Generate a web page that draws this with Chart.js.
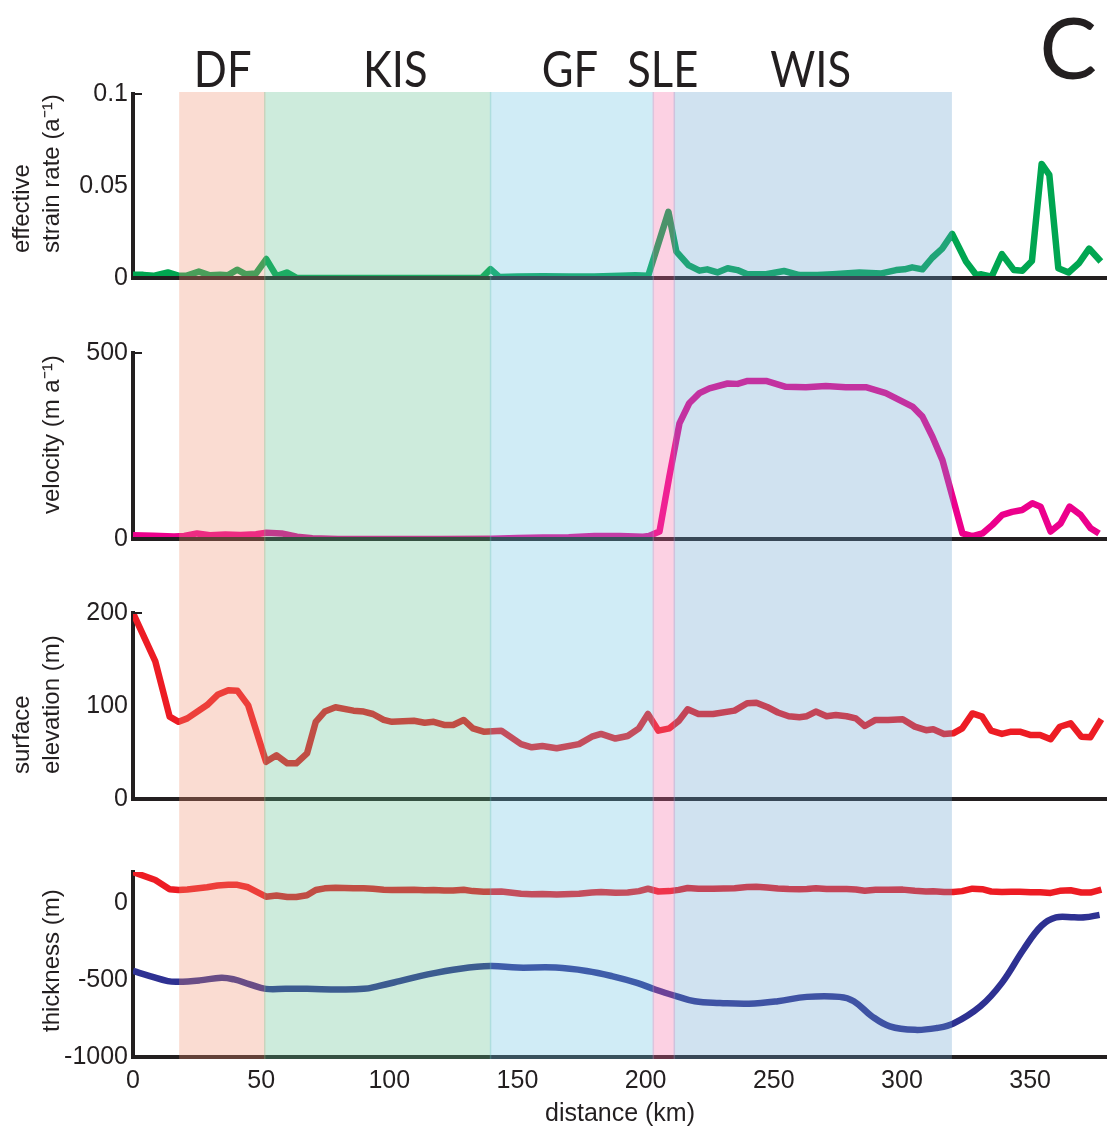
<!DOCTYPE html>
<html>
<head>
<meta charset="utf-8">
<title>Flowline profile C</title>
<script src="https://cdn.jsdelivr.net/npm/chart.js@4.4.1/dist/chart.umd.min.js"></script>
<style>
  html, body { margin: 0; padding: 0; background: #fff; }
  #wrap { position: relative; width: 1107px; height: 1133px; }
</style>
</head>
<body>
<div id="wrap"><canvas id="profile" width="1107" height="1133"></canvas></div>
<script>
'use strict';

// flow regions along the profile (km)
const regionNames = ['DF', 'KIS', 'GF', 'SLE', 'WIS'];
const regionStart = [18.3, 51.4, 139.5, 203.0, 211.2];
const regionEnd = [51.4, 139.5, 203.0, 211.2, 319.2];
const regionLabelKm = [35, 102.3, 170.5, 206.7, 264.4];
const regionColors = ['rgb(239,142,110)', 'rgb(94,190,142)', 'rgb(103,194,226)', 'rgb(245,107,164)', 'rgb(103,161,206)'];

// axis ticks
const distanceTicks = [0, 50, 100, 150, 200, 250, 300, 350];
const strainTicks = [0, 0.05, 0.1];
const strainTickLabels = ['0', '0.05', '0.1'];
const velocityTicks = [0, 500];
const velocityTickLabels = ['0', '500'];
const elevationTicks = [0, 100, 200];
const elevationTickLabels = ['0', '100', '200'];
const thicknessTicks = [-1000, -500, 0];
const thicknessTickLabels = ['-1000', '-500', '0'];

// effective strain rate (a^-1)
const strainKm = [0, 4, 8, 13.6, 18, 21, 25.7, 30, 34, 37, 40.6, 44, 48, 52, 56, 60, 64, 80, 100, 120, 136,
  139.5, 143, 150, 160, 170, 180, 190, 196, 201, 208.9, 212, 216.7, 221, 224, 228, 232, 235.8, 239.7, 247,
  254, 260, 267, 273, 283.4, 292, 297.7, 301, 304, 308, 311.8, 315.7, 319.6, 325, 329, 331, 335, 339,
  343.7, 347, 350.7, 354.5, 357.5, 361, 365, 369, 373, 377.6];
const strainRate = [0.0017, 0.0017, 0.0012, 0.003, 0.0012, 0.0013, 0.0035, 0.0015, 0.0018, 0.0015, 0.0045,
  0.002, 0.0025, 0.0103, 0.001, 0.003, 0, 0, 0, 0, 0,
  0.0048, 0.0005, 0.0008, 0.001, 0.0008, 0.0008, 0.0012, 0.0015, 0.0012, 0.036, 0.0143, 0.007, 0.004, 0.0047,
  0.003, 0.0053, 0.0043, 0.002, 0.002,
  0.0038, 0.0016, 0.0016, 0.002, 0.003, 0.0025, 0.0043, 0.0047, 0.0058, 0.0047, 0.011, 0.016, 0.024, 0.009,
  0.0016, 0.002, 0.0007, 0.013,
  0.0043, 0.004, 0.0092, 0.062, 0.056, 0.0053, 0.003, 0.008, 0.016, 0.009];

// surface velocity (m a^-1)
const velocityKm = [0, 8, 16, 20, 25, 30, 36, 42, 48, 52, 58, 64, 70, 80, 100, 120, 140, 150, 160, 170, 180,
  190, 199, 201.3, 205.4, 209.3, 213.2, 217, 221, 224.9, 232, 235.9, 239.8, 247, 254.7, 262.5, 270.3, 278.1,
  285.9, 293.7, 298.9, 304.1, 308, 311.9, 315.8, 319.7, 323.6, 327.5, 331.4, 335.3, 339.2, 343, 346.9,
  350.9, 354.1, 358, 361.9, 365.4, 369.7, 373.6, 376.9];
const velocity = [10, 9, 7, 8, 15, 10, 12, 11, 13, 17, 15, 6, 2, 0, 0, 0, 1, 3, 4, 5, 8,
  8, 6, 8, 20, 170, 311, 365, 392, 405, 418, 417, 425, 425, 409, 408, 411, 408,
  408, 392, 374, 356, 329, 275, 212, 114, 15, 8, 15, 38, 65, 73, 78,
  96, 87, 20, 42, 87, 65, 29, 15];

// surface elevation (m)
const elevationKm = [0, 8.7, 14.3, 17.8, 21.2, 28.9, 33, 37.2, 40.7, 44.9, 51.9, 56, 60.2, 63.7, 67.9, 71.3,
  74.8, 79, 86, 90, 93.6, 97.8, 101, 109.6, 113.8, 117.3, 121.4, 124.9, 129, 132.6, 136.8, 143.7, 151.4,
  155.6, 159.7, 165.3, 174, 179, 182.6, 188.2, 193, 197.4, 200.9, 205, 209.3, 212.9, 216.4, 220.6, 226.3,
  234.7, 239.6, 243.2, 247.4, 251.6, 255.8, 260, 262.9, 266.4, 270.6, 274.2, 278.4, 282, 285.5, 289.7,
  294.6, 300.3, 305, 309.4, 312.2, 316.4, 320, 323.5, 327.5, 331.3, 334.8, 339, 342.6, 346, 350.3, 353.9,
  358, 361.6, 365.8, 370, 373.5, 377.8];
const elevation = [200, 148, 88.5, 83, 86.7, 101, 112, 117, 116.5, 101, 40, 47, 38.4, 38.4, 49, 83,
  94, 98.6, 95, 94, 91.4, 85, 83, 84.2, 82, 83, 79.6, 79.6, 85, 76, 72.4, 73.5, 59,
  55.6, 57, 54.5, 59, 67, 70, 65, 67.7, 76, 91.4, 73.5, 76, 84, 96.4, 91.4, 91.4,
  95, 103, 103.6, 99, 93, 89, 88, 89, 94, 89, 90.3, 89, 86.7, 78.5, 85,
  85, 85.7, 77.8, 74, 75, 70, 70.6, 76, 92, 88.5, 73.5, 70, 72.4, 72.4, 68.8, 68.8,
  64.2, 77.7, 81.4, 67, 66.4, 85.7];

// ice base (m)
const baseKm = [0, 6.6, 13.6, 17.8, 26, 34.5, 39.4, 45.6, 51.8, 59.5, 67.9, 80.4, 90, 95.7, 104, 115, 127.7,
  139.5, 150, 165, 177, 186.8, 196.6, 203.7, 212.2, 219.2, 229, 240.3, 251.6, 262.9, 275.6, 281.2, 288.3,
  295.3, 305.1, 313.6, 320, 330.6, 339, 347.5, 354.5, 360.1, 367.2, 371.4, 377.1];
const base = [-442, -475, -508, -512, -503, -486, -497, -529, -558, -558, -558, -562, -558, -540, -508, -464, -427,
  -410, -420, -420, -442, -475, -519, -562, -606, -638, -649, -654, -638, -610, -610, -638, -736,
  -801, -824, -812, -784, -671, -519, -301, -148, -94, -94, -94, -78];

const ink = '#231f20';
const fontFamily = "'Liberation Sans', Arial, sans-serif";
const tickFont = { family: fontFamily, size: 25 };
const panelAxes = ['yStrain', 'yVel', 'yElev', 'yThk'];
const axisTitles = {
  yStrain: ['effective', 'strain rate (a\u207B\u00B9)'],
  yVel: ['velocity (m a\u207B\u00B9)'],
  yElev: ['surface', 'elevation (m)'],
  yThk: ['thickness (m)']
};

const pairs = (xs, ys) => xs.map((k, i) => ({ x: k, y: ys[i] }));

function panelAxis(weight, stackWeight, min, max, ticks, labels) {
  return {
    type: 'linear',
    position: 'left',
    stack: 'panels',
    weight: weight,
    stackWeight: stackWeight,
    min: min,
    max: max,
    grid: { display: false, drawTicks: false },
    border: { display: true, color: ink, width: 4 },
    afterBuildTicks: axis => { axis.ticks = ticks.map(v => ({ value: v })); },
    afterFit: axis => { axis.width = 133; },
    ticks: {
      color: ink,
      font: tickFont,
      padding: 5,
      callback: v => labels[ticks.indexOf(v)]
    }
  };
}

function spacerAxis(weight, stackWeight) {
  return {
    type: 'linear',
    position: 'left',
    stack: 'panels',
    weight: weight,
    stackWeight: stackWeight,
    grid: { display: false, drawTicks: false },
    border: { display: false },
    ticks: { display: false },
    afterFit: axis => { axis.width = 133; }
  };
}

const panelFrame = {
  id: 'panelFrame',
  afterDatasetsDraw(chart) {
    const { ctx, chartArea, scales } = chart;
    const x = scales.x;
    ctx.save();

    // base line of every panel, over the data
    ctx.strokeStyle = ink;
    ctx.lineWidth = 4;
    for (const id of panelAxes) {
      const s = scales[id];
      const y = s.getPixelForValue(s.min);
      ctx.beginPath();
      ctx.moveTo(chartArea.left - 2, y);
      ctx.lineTo(chartArea.right, y);
      ctx.stroke();
    }
    // short inward tick at the top of the upper three axes
    ctx.lineWidth = 2;
    for (const id of ['yStrain', 'yVel', 'yElev']) {
      const s = scales[id];
      const y = s.getPixelForValue(s.max);
      ctx.beginPath();
      ctx.moveTo(chartArea.left, y);
      ctx.lineTo(chartArea.left + 9, y);
      ctx.stroke();
    }

    // translucent region bands laid over lines and axes
    ctx.globalAlpha = 0.31;
    regionNames.forEach((name, i) => {
      const x0 = x.getPixelForValue(regionStart[i]);
      const x1 = x.getPixelForValue(regionEnd[i]);
      ctx.fillStyle = regionColors[i];
      ctx.fillRect(x0 - 0.75, chartArea.top - 2, x1 - x0 + 1.5, chartArea.bottom - chartArea.top + 4);
    });
    ctx.restore();
  },
  afterDraw(chart) {
    const { ctx, scales } = chart;
    const x = scales.x;
    ctx.save();
    ctx.fillStyle = ink;

    // y axis titles, read upward from just above each panel's base
    ctx.font = '24px ' + fontFamily;
    ctx.textAlign = 'left';
    ctx.textBaseline = 'middle';
    for (const id of panelAxes) {
      const s = scales[id];
      const lines = axisTitles[id];
      lines.forEach((text, i) => {
        const slot = lines.length === 1 ? 1 : i;
        ctx.save();
        ctx.translate(s.left + 22 + slot * 30, s.bottom - 25);
        ctx.rotate(-Math.PI / 2);
        ctx.fillText(text, 0, 0);
        ctx.restore();
      });
    }

    // region names over the bands, slightly condensed
    ctx.textAlign = 'center';
    ctx.textBaseline = 'alphabetic';
    ctx.font = "50px Lato, 'Open Sans', sans-serif";
    regionNames.forEach((name, i) => {
      ctx.save();
      ctx.translate(x.getPixelForValue(regionLabelKm[i]), 87);
      ctx.scale(0.87, 1);
      ctx.fillText(name, 0, 0);
      ctx.restore();
    });

    ctx.textAlign = 'right';
    ctx.font = "86px Lato, 'Open Sans', sans-serif";
    ctx.fillText('C', 1097, 79);
    ctx.restore();
  }
};

const line = (data, color, axis, extra) => Object.assign({
  data: data,
  yAxisID: axis,
  borderColor: color,
  borderWidth: 6.5,
  pointRadius: 0,
  borderJoinStyle: 'round',
  tension: 0
}, extra || {});

new Chart(document.getElementById('profile'), {
  type: 'line',
  data: {
    datasets: [
      line(pairs(strainKm, strainRate), '#00a651', 'yStrain'),
      line(pairs(velocityKm, velocity), '#ec008c', 'yVel'),
      line(pairs(elevationKm, elevation), '#ed1c24', 'yElev'),
      line(pairs(elevationKm, elevation), '#ed1c24', 'yThk'),
      line(pairs(baseKm, base), '#2e3192', 'yThk', { tension: 0.4 })
    ]
  },
  options: {
    responsive: false,
    animation: false,
    layout: { padding: { top: 94, right: 0, bottom: 0, left: 0 } },
    plugins: { legend: { display: false }, tooltip: { enabled: false } },
    scales: {
      x: {
        type: 'linear',
        position: 'bottom',
        min: 0,
        max: 380,
        grid: { display: false, drawTicks: false },
        border: { display: false },
        afterBuildTicks: axis => { axis.ticks = distanceTicks.map(v => ({ value: v })); },
        afterFit: axis => { axis.height = 76; },
        ticks: { color: ink, font: { family: fontFamily, size: 25 }, padding: 9, maxRotation: 0, callback: v => String(v) },
        title: { display: true, text: 'distance (km)', color: ink, font: { family: fontFamily, size: 25 }, padding: { top: 0, bottom: 4 } }
      },
      yStrain: panelAxis(7, 184, 0, 0.1, strainTicks, strainTickLabels),
      gap1: spacerAxis(6, 75),
      yVel: panelAxis(5, 186, 0, 500, velocityTicks, velocityTickLabels),
      gap2: spacerAxis(4, 74),
      yElev: panelAxis(3, 186, 0, 200, elevationTicks, elevationTickLabels),
      gap3: spacerAxis(2, 73),
      yThk: panelAxis(1, 185, -1000, 200, thicknessTicks, thicknessTickLabels)
    }
  },
  plugins: [panelFrame]
});
</script>
</body>
</html>
